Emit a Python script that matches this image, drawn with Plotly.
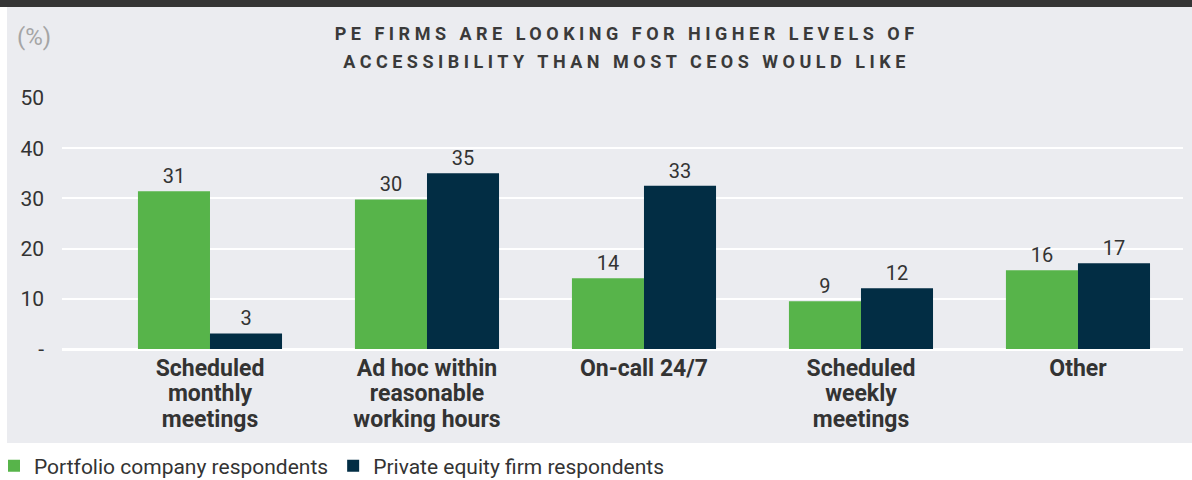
import plotly.graph_objects as go

categories = ["Scheduled<br>monthly<br>meetings", "Ad hoc within<br>reasonable<br>working hours",
              "On-call 24/7", "Scheduled<br>weekly<br>meetings", "Other"]
portfolio_vals = [31.4, 29.8, 14.1, 9.5, 15.7]
portfolio_labels = ["31", "30", "14", "9", "16"]
pe_vals = [3.1, 35.0, 32.5, 12.1, 17.1]
pe_labels = ["3", "35", "33", "12", "17"]
y_tickvals = [0, 10, 20, 30, 40, 50]
y_ticktext = ["-", "10", "20", "30", "40", "50"]

W, H = 1192, 480
L, R, T, B = 62, 9, 98, 131
PW, PH = W - L - R, H - T - B

def px_x(px):
    return (px - L) / PW

def px_y(py):
    return (H - B - py) / PH

GREEN = "#57B44A"
NAVY = "#022D44"
PANEL = "#EBECF0"
TXT = "#333333"
FONT = "Roboto"

# x tick text: larger glyphs on a tighter line pitch
xtick_text = ["<br>".join('<span style="font-size:23px">%s</span>' % ln for ln in c.split("<br>"))
              for c in categories]

fig = go.Figure()
fig.add_trace(go.Bar(
    x=list(range(len(categories))), y=portfolio_vals, name="Portfolio company respondents",
    marker=dict(color=GREEN, line=dict(width=0)),
    text=portfolio_labels, textposition="outside", textfont=dict(size=20, color=TXT, family=FONT),
    cliponaxis=False,
))
fig.add_trace(go.Bar(
    x=list(range(len(categories))), y=pe_vals, name="Private equity firm respondents",
    marker=dict(color=NAVY, line=dict(width=0)),
    text=pe_labels, textposition="outside", textfont=dict(size=20, color=TXT, family=FONT),
    cliponaxis=False,
))

shapes = [
    dict(type="rect", xref="paper", yref="paper", layer="below",
         x0=px_x(7), x1=px_x(1192), y0=px_y(443), y1=px_y(7),
         fillcolor=PANEL, line=dict(width=0)),
    dict(type="rect", xref="paper", yref="paper", layer="below",
         x0=px_x(0), x1=px_x(1192), y0=px_y(7), y1=px_y(0),
         fillcolor="#353535", line=dict(width=0)),
]

annotations = [
    dict(text="PE FIRMS ARE LOOKING FOR HIGHER LEVELS OF", xref="paper", yref="paper",
         x=px_x(626), y=px_y(33), xanchor="center", yanchor="middle", showarrow=False,
         font=dict(family=FONT, size=18, color="#3A3A3A", weight="bold")),
    dict(text="ACCESSIBILITY THAN MOST CEOS WOULD LIKE", xref="paper", yref="paper",
         x=px_x(626), y=px_y(62), xanchor="center", yanchor="middle", showarrow=False,
         font=dict(family=FONT, size=18, color="#3A3A3A", weight="bold")),
    dict(text="(%)", xref="paper", yref="paper",
         x=px_x(15), y=px_y(37), xanchor="left", yanchor="middle", showarrow=False,
         font=dict(family=FONT, size=24, color="#A5A5A5")),
]

fig.update_layout(
    width=W, height=H,
    margin=dict(l=L, r=R, t=T, b=B, pad=0, autoexpand=False),
    paper_bgcolor="white", plot_bgcolor=PANEL,
    barmode="group", bargap=0.336, bargroupgap=0,
    shapes=shapes, annotations=annotations,
    showlegend=True,
    legend=dict(orientation="h", x=px_x(-6), xanchor="left", y=px_y(466), yanchor="middle",
                font=dict(family=FONT, size=21, color=TXT), bgcolor="rgba(0,0,0,0)",
                traceorder="normal"),
    font=dict(family=FONT, color=TXT),
)
fig.update_xaxes(
    range=[-0.682, 4.484], tickvals=list(range(len(categories))), ticktext=xtick_text,
    tickfont=dict(family=FONT, size=19.6, color=TXT, weight="bold"),
    showgrid=False, zeroline=False, showline=False, ticks="", ticklabelstandoff=6,
)
fig.update_yaxes(
    range=[0, 50], tickvals=y_tickvals, ticktext=y_ticktext,
    tickfont=dict(family=FONT, size=21, color=TXT),
    showgrid=True, gridcolor="white", gridwidth=1.5,
    zeroline=True, zerolinecolor="white", zerolinewidth=2.5,
    showline=False, ticks="", ticklabelstandoff=17,
)

post = """
document.querySelectorAll('.annotation-text').forEach(function(t){
  if (t.textContent.indexOf('PE FIRMS') === 0 || t.textContent.indexOf('ACCESSIBILITY') === 0) {
    t.style.letterSpacing = '4.5px';
  }
});
"""
fig.write_html("out.html", post_script=post)
